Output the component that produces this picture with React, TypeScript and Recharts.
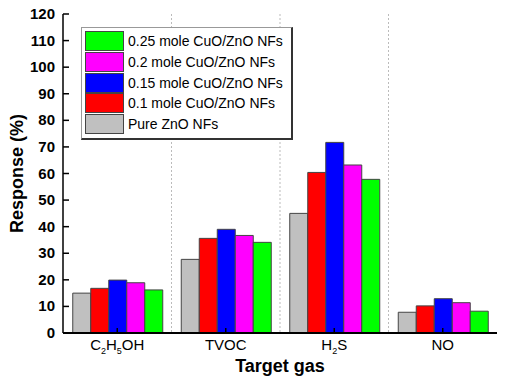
import React from 'react';
import { BarChart, Bar, XAxis, YAxis, CartesianGrid } from 'recharts';

const gases = ['C2H5OH', 'TVOC', 'H2S', 'NO'];
const pureZnO = [15.0, 27.7, 45.0, 7.8];
const cuo010 = [16.8, 35.6, 60.4, 10.2];
const cuo015 = [19.9, 39.0, 71.7, 12.9];
const cuo020 = [18.9, 36.7, 63.2, 11.4];
const cuo025 = [16.2, 34.1, 57.8, 8.2];
const yTicks = [0, 10, 20, 30, 40, 50, 60, 70, 80, 90, 100, 110, 120];

const series = [
  { key: 'pure', name: 'Pure ZnO NFs', color: '#c0c0c0', values: pureZnO },
  { key: 'c010', name: '0.1 mole CuO/ZnO NFs', color: '#ff0000', values: cuo010 },
  { key: 'c015', name: '0.15 mole CuO/ZnO NFs', color: '#0000ff', values: cuo015 },
  { key: 'c020', name: '0.2 mole CuO/ZnO NFs', color: '#ff00ff', values: cuo020 },
  { key: 'c025', name: '0.25 mole CuO/ZnO NFs', color: '#00ff00', values: cuo025 },
];

const data = gases.map((gas, i) => {
  const row: Record<string, string | number> = { gas };
  series.forEach(s => { row[s.key] = s.values[i]; });
  return row;
});

const FONT = '"Liberation Sans", Arial, sans-serif';

// split "C2H5OH" into normal letters and subscript digits
const renderFormula = (label: string) =>
  label.split(/(\d+)/).filter(Boolean).map((part, i) =>
    /^\d+$/.test(part)
      ? <tspan key={i} fontSize={9} dy={4}>{part}</tspan>
      : <tspan key={i} dy={i > 0 ? -4 : 0}>{part}</tspan>
  );

const XTick = (props: any) => {
  const { x, y, payload } = props;
  return (
    <g>
      <line x1={x} y1={y} x2={x} y2={y - 5} stroke="#000" strokeWidth={1.5} />
      <text x={x} y={y + 17} textAnchor="middle" fontFamily={FONT} fontSize={15} fill="#000">
        {renderFormula(String(payload.value))}
      </text>
    </g>
  );
};

const YTick = (props: any) => {
  const { x, y, payload } = props;
  return (
    <g>
      <line x1={x} y1={y} x2={x + 6} y2={y} stroke="#000" strokeWidth={1.5} />
      <text x={x - 8} y={y + 5} textAnchor="end" fontFamily={FONT} fontSize={15} fontWeight="bold" fill="#000">
        {payload.value}
      </text>
    </g>
  );
};

const LegendBox = () => (
  <div
    style={{
      position: 'absolute', left: 81, top: 27, width: 209, height: 110,
      background: '#fff', borderLeft: '1px solid #999', borderTop: '1px solid #999',
      borderRight: '2px solid #333', borderBottom: '2px solid #333',
      fontFamily: FONT, fontSize: 14, color: '#000',
    }}
  >
    {[...series].reverse().map((s, i) => (
      <div key={s.key} style={{ position: 'absolute', left: 3, top: 3 + i * 20.8, display: 'flex', alignItems: 'center' }}>
        <div style={{ width: 37, height: 18, background: s.color, border: '1px solid #444' }} />
        <span style={{ marginLeft: 4 }}>{s.name}</span>
      </div>
    ))}
  </div>
);

export default function App() {
  return (
    <div style={{ position: 'absolute', left: 0, top: 0, width: 508, height: 389, background: '#fff' }}>
      <BarChart
        width={508}
        height={389}
        data={data}
        margin={{ top: 14, right: 11, left: 0, bottom: 0 }}
        barCategoryGap="9%"
        barGap={0}
      >
        <CartesianGrid
          horizontal={false}
          stroke="#bbb"
          strokeDasharray="2 2"
          verticalCoordinatesGenerator={({ offset }: any) =>
            [1, 2, 3].map(i => offset.left + (offset.width * i) / gases.length)}
        />
        <XAxis
          dataKey="gas"
          height={56}
          tickSize={0}
          tickMargin={0}
          tick={<XTick />}
          axisLine={{ stroke: '#000', strokeWidth: 2 }}
          tickLine={false}
          label={{ value: 'Target gas', position: 'insideBottom', offset: 17, fontFamily: FONT, fontSize: 18, fontWeight: 'bold', fill: '#000' }}
        />
        <XAxis xAxisId="top" dataKey="gas" orientation="top" height={0} tick={false} tickLine={false} axisLine={{ stroke: '#000', strokeWidth: 1.5 }} />
        <YAxis
          domain={[0, 120]}
          ticks={yTicks}
          width={63}
          tickSize={0}
          tickMargin={0}
          tick={<YTick />}
          tickLine={false}
          axisLine={{ stroke: '#000', strokeWidth: 1.5 }}
          label={{ value: 'Response (%)', angle: -90, position: 'insideLeft', offset: 17, fontFamily: FONT, fontSize: 18, fontWeight: 'bold', fill: '#000', style: { textAnchor: 'middle' } }}
        />
        <YAxis yAxisId="right" orientation="right" width={0} domain={[0, 120]} tick={false} tickLine={false} axisLine={{ stroke: '#000', strokeWidth: 2.5 }} />
        {series.map(s => (
          <Bar key={s.key} dataKey={s.key} name={s.name} fill={s.color} stroke="#444" strokeWidth={1} isAnimationActive={false} />
        ))}
      </BarChart>
      <LegendBox />
    </div>
  );
}
